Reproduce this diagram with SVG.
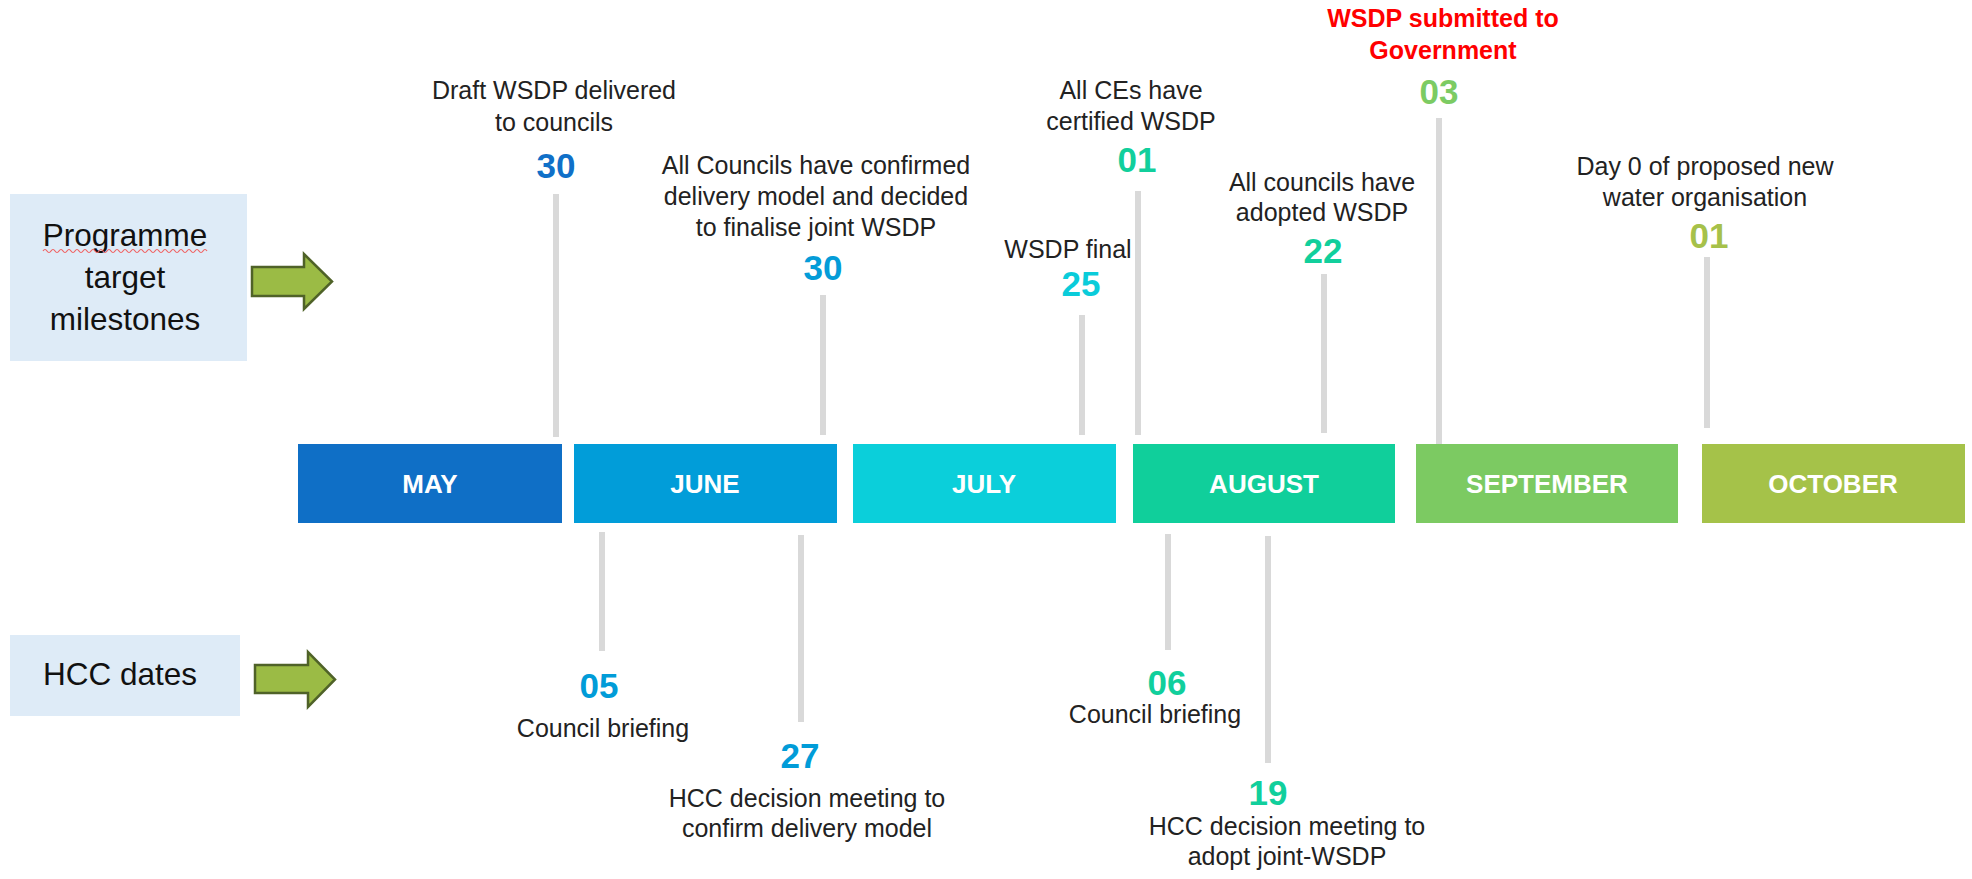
<svg xmlns="http://www.w3.org/2000/svg" width="1972" height="879" viewBox="0 0 1972 879">
  <style>
    .lbl { font-family: "Liberation Sans", Arial, sans-serif; font-size: 25px; fill: #222222; text-anchor: middle; }
    .red { font-family: "Liberation Sans", Arial, sans-serif; font-size: 25px; font-weight: bold; fill: #FF0000; text-anchor: middle; }
    .num { font-family: "Liberation Sans", Arial, sans-serif; font-size: 35px; font-weight: bold; text-anchor: middle; }
    .mon { font-family: "Liberation Sans", Arial, sans-serif; font-size: 26px; font-weight: bold; fill: #FFFFFF; text-anchor: middle; }
    .side { font-family: "Liberation Sans", Arial, sans-serif; font-size: 31.5px; fill: #111111; text-anchor: middle; }
    .sidebox { fill: #DEEBF7; }
    .arrow { fill: #9BBB45; stroke: #4F6228; stroke-width: 2.5; stroke-linejoin: miter; }
    .tick { stroke: #D9D9D9; stroke-width: 6; fill: none; }
  </style>

  <g id="connectors">
    <line class="tick" x1="556" y1="194" x2="556" y2="437"/>
    <line class="tick" x1="823" y1="295" x2="823" y2="435"/>
    <line class="tick" x1="1082" y1="315" x2="1082" y2="435"/>
    <line class="tick" x1="1138" y1="191" x2="1138" y2="435"/>
    <line class="tick" x1="1324" y1="274" x2="1324" y2="433"/>
    <line class="tick" x1="1439" y1="118" x2="1439" y2="444"/>
    <line class="tick" x1="1707" y1="257" x2="1707" y2="428"/>
    <line class="tick" x1="602" y1="532" x2="602" y2="651"/>
    <line class="tick" x1="801" y1="535" x2="801" y2="722"/>
    <line class="tick" x1="1168" y1="534" x2="1168" y2="650"/>
    <line class="tick" x1="1268" y1="536" x2="1268" y2="763"/>
  </g>

  <g id="side-programme">
    <rect class="sidebox" x="10" y="194" width="237" height="167"/>
    <text class="side" x="125" y="246">Programme</text>
    <path d="M43,251 q2,-3 4,0 t4,0 t4,0 t4,0 t4,0 t4,0 t4,0 t4,0 t4,0 t4,0 t4,0 t4,0 t4,0 t4,0 t4,0 t4,0 t4,0 t4,0 t4,0 t4,0 t4,0 t4,0 t4,0 t4,0 t4,0 t4,0 t4,0 t4,0 t4,0 t4,0 t4,0 t4,0 t4,0 t4,0 t4,0 t4,0 t4,0 t4,0 t4,0 t4,0 t4,0" fill="none" stroke="#F06060" stroke-width="1.2"/>
    <text class="side" x="125" y="288">target</text>
    <text class="side" x="125" y="330">milestones</text>
  </g>
  <g id="arrow-programme">
    <polygon class="arrow" points="252,267 304,267 304,254 332,281.5 304,309 304,296 252,296"/>
  </g>

  <g id="side-hcc">
    <rect class="sidebox" x="10" y="635" width="230" height="81"/>
    <text class="side" x="120" y="685">HCC dates</text>
  </g>
  <g id="arrow-hcc">
    <polygon class="arrow" points="255,665 308,665 308,652 335,679.5 308,707 308,693 255,693"/>
  </g>

  <g id="month-may">
    <rect x="298" y="444" width="264" height="79" fill="#0F6FC6"/>
    <text class="mon" x="430" y="493">MAY</text>
  </g>
  <g id="month-june">
    <rect x="574" y="444" width="263" height="79" fill="#019DD9"/>
    <text class="mon" x="705" y="493">JUNE</text>
  </g>
  <g id="month-july">
    <rect x="853" y="444" width="263" height="79" fill="#0BCFDA"/>
    <text class="mon" x="984" y="493">JULY</text>
  </g>
  <g id="month-august">
    <rect x="1133" y="444" width="262" height="79" fill="#10CF9B"/>
    <text class="mon" x="1264" y="493">AUGUST</text>
  </g>
  <g id="month-september">
    <rect x="1416" y="444" width="262" height="79" fill="#7CCA62"/>
    <text class="mon" x="1547" y="493">SEPTEMBER</text>
  </g>
  <g id="month-october">
    <rect x="1702" y="444" width="263" height="79" fill="#A5C249"/>
    <text class="mon" x="1833" y="493">OCTOBER</text>
  </g>

  <g id="ms-may30">
    <text class="lbl" x="554" y="99">Draft WSDP delivered</text>
    <text class="lbl" x="554" y="131">to councils</text>
    <text class="num" x="556" y="178" fill="#1070C8">30</text>
  </g>
  <g id="ms-june30">
    <text class="lbl" x="816" y="174">All Councils have confirmed</text>
    <text class="lbl" x="816" y="205">delivery model and decided</text>
    <text class="lbl" x="816" y="236">to finalise joint WSDP</text>
    <text class="num" x="823" y="280" fill="#049CD8">30</text>
  </g>
  <g id="ms-july25">
    <text class="lbl" x="1068" y="258">WSDP final</text>
    <text class="num" x="1081" y="296" fill="#0ACCDA">25</text>
  </g>
  <g id="ms-aug01">
    <text class="lbl" x="1131" y="99">All CEs have</text>
    <text class="lbl" x="1131" y="130">certified WSDP</text>
    <text class="num" x="1137" y="172" fill="#11CF9C">01</text>
  </g>
  <g id="ms-aug22">
    <text class="lbl" x="1322" y="191">All councils have</text>
    <text class="lbl" x="1322" y="221">adopted WSDP</text>
    <text class="num" x="1323" y="263" fill="#11CF9C">22</text>
  </g>
  <g id="ms-sep03">
    <text class="red" x="1443" y="27">WSDP submitted to</text>
    <text class="red" x="1443" y="59">Government</text>
    <text class="num" x="1439" y="104" fill="#7CCB63">03</text>
  </g>
  <g id="ms-oct01">
    <text class="lbl" x="1705" y="175">Day 0 of proposed new</text>
    <text class="lbl" x="1705" y="206">water organisation</text>
    <text class="num" x="1709" y="248" fill="#A6C14A">01</text>
  </g>

  <g id="hcc-june05">
    <text class="num" x="599" y="698" fill="#019CD8">05</text>
    <text class="lbl" x="603" y="737">Council briefing</text>
  </g>
  <g id="hcc-june27">
    <text class="num" x="800" y="768" fill="#019CD8">27</text>
    <text class="lbl" x="807" y="807">HCC decision meeting to</text>
    <text class="lbl" x="807" y="837">confirm delivery model</text>
  </g>
  <g id="hcc-aug06">
    <text class="num" x="1167" y="695" fill="#11CF9C">06</text>
    <text class="lbl" x="1155" y="723">Council briefing</text>
  </g>
  <g id="hcc-aug19">
    <text class="num" x="1268" y="805" fill="#11CF9C">19</text>
    <text class="lbl" x="1287" y="835">HCC decision meeting to</text>
    <text class="lbl" x="1287" y="865">adopt joint-WSDP</text>
  </g>
</svg>
